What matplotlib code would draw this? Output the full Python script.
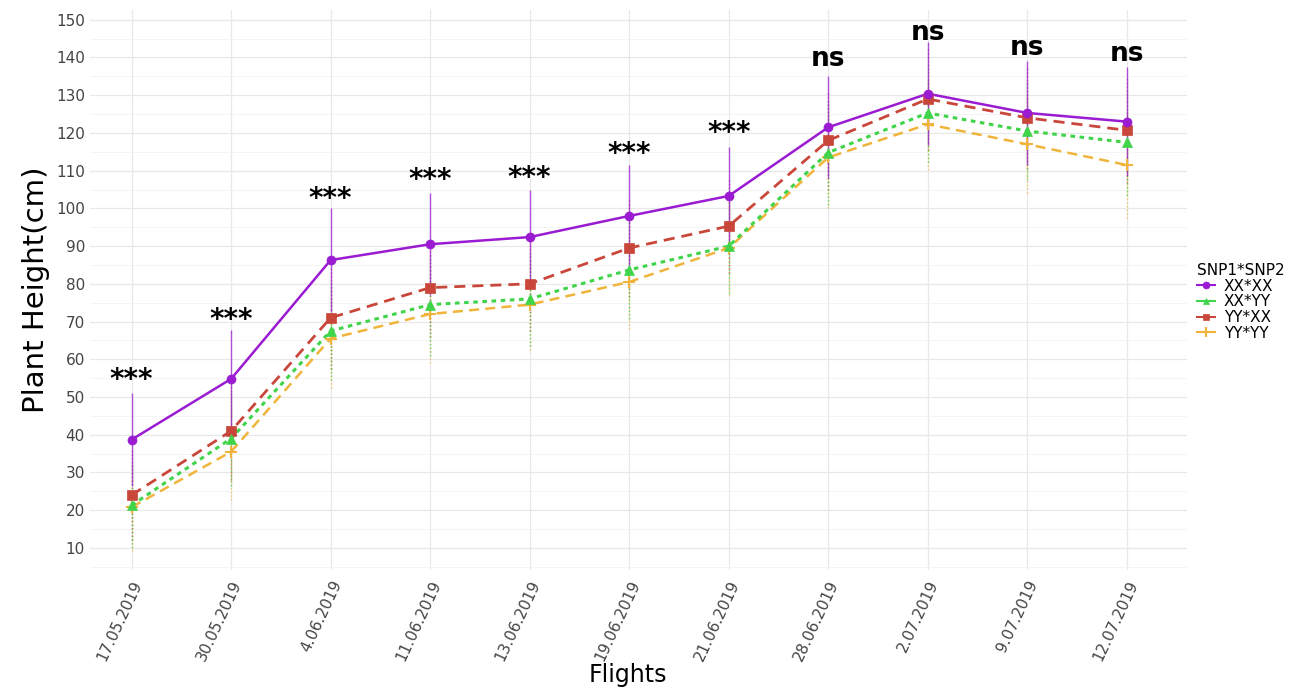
import numpy as np
import matplotlib
matplotlib.use("Agg")
import matplotlib.pyplot as plt
from matplotlib.lines import Line2D

flights = ["17.05.2019", "30.05.2019", "4.06.2019", "11.06.2019", "13.06.2019",
           "19.06.2019", "21.06.2019", "28.06.2019", "2.07.2019", "9.07.2019", "12.07.2019"]

xx_xx = [38.7, 54.8, 86.3, 90.5, 92.4, 98.0, 103.3, 121.5, 130.4, 125.3, 123.0]
xx_yy = [21.3, 39.0, 67.5, 74.5, 76.0, 83.7, 90.0, 114.8, 125.3, 120.5, 117.5]
yy_xx = [24.0, 41.0, 71.0, 79.0, 80.0, 89.5, 95.3, 118.0, 129.0, 124.0, 120.7]
yy_yy = [20.8, 35.5, 65.5, 72.0, 74.5, 80.5, 89.5, 113.5, 122.3, 117.0, 111.5]

sd_xx_xx = [12.3, 13.0, 13.7, 13.5, 12.4, 13.4, 13.1, 13.5, 13.6, 13.7, 14.5]
sd_xx_yy = [11.3, 12.5, 13.0, 13.5, 12.5, 13.0, 12.5, 14.0, 13.0, 13.0, 14.0]
sd_yy_xx = [12.0, 13.0, 13.5, 13.0, 12.5, 13.0, 12.5, 13.0, 13.5, 13.5, 14.0]
sd_yy_yy = [11.5, 12.8, 13.0, 13.0, 12.0, 12.5, 12.5, 13.5, 12.0, 13.0, 14.0]

signif = ["***", "***", "***", "***", "***", "***", "***", "ns", "ns", "ns", "ns"]
signif_y = [54.5, 70.5, 102.5, 107.5, 108.0, 114.5, 120.0, 139.5, 146.5, 142.5, 141.0]

groups = [
    ("XX*XX", xx_xx, sd_xx_xx, "#9a1bd1", "-", "o", 1.8),
    ("XX*YY", xx_yy, sd_xx_yy, "#3fd44a", (0, (1.5, 1.5)), "^", 2.2),
    ("YY*XX", yy_xx, sd_yy_xx, "#c9473a", (0, (4, 2.5)), "s", 2.0),
    ("YY*YY", yy_yy, sd_yy_yy, "#f0b43a", (0, (4, 2.5)), "+", 1.8),
]

fig = plt.figure(figsize=(13.01, 6.89), dpi=100)
ax = fig.add_axes([0.069, 0.173, 0.843, 0.812])

x = np.arange(len(flights))

# error bars first, drawn thin under the lines
for name, vals, sd, col, ls, mk, lw in reversed(groups):
    vals = np.array(vals)
    sd = np.array(sd)
    err_ls = "-" if name == "XX*XX" else ":"
    ax.vlines(x, vals - sd, vals + sd, colors=col, linestyles=err_ls,
              linewidth=1.0, alpha=0.75, zorder=2)

for name, vals, sd, col, ls, mk, lw in reversed(groups):
    ms = 9 if mk == "+" else 6.5
    ax.plot(x, vals, color=col, linestyle=ls, linewidth=lw, zorder=3)
    ax.plot(x, vals, color=col, linestyle="none", marker=mk, markersize=ms,
            markeredgewidth=1.5 if mk == "+" else 0.5, zorder=4)

for xi, lab, yv in zip(x, signif, signif_y):
    ax.text(xi, yv, lab, ha="center", va="center", fontsize=19 if lab == "ns" else 20,
            fontweight="bold", color="black", zorder=5)

ax.set_xlim(-0.42, len(flights) - 1 + 0.6)
ax.set_ylim(4.2, 152.5)
ax.set_yticks(np.arange(10, 151, 10))
ax.set_yticks(np.arange(5, 151, 10), minor=True)
ax.set_xticks(x)
ax.set_xticklabels(flights, rotation=65, ha="right", rotation_mode="anchor")
ax.tick_params(axis="both", which="both", length=0, labelsize=11, labelcolor="#444444")
ax.tick_params(axis="x", pad=6)
ax.grid(which="major", color="#e8e8e8", linewidth=0.9)
ax.grid(which="minor", axis="y", color="#f2f2f2", linewidth=0.6)
ax.set_axisbelow(True)
for s in ax.spines.values():
    s.set_visible(False)

fig.text(628 / 1301, 1 - 675 / 689, "Flights", fontsize=17, ha="center", va="center")
ax.set_ylabel("Plant Height(cm)", fontsize=21, labelpad=4)

handles = []
for name, vals, sd, col, ls, mk, lw in groups:
    handles.append(Line2D([0], [0], color=col, linestyle="-", linewidth=1.5,
                          marker=mk, markersize=7 if mk == "+" else 5,
                          markeredgewidth=1.5 if mk == "+" else 0.5, label=name))
leg = fig.legend(handles=handles, title="SNP1*SNP2", loc="center left",
                 bbox_to_anchor=(0.915, 0.562), frameon=False, fontsize=11,
                 title_fontsize=11, handlelength=1.2, handletextpad=0.6,
                 labelspacing=0.05, borderaxespad=0)
leg._legend_box.align = "left"

fig.savefig("out.png", dpi=100)
